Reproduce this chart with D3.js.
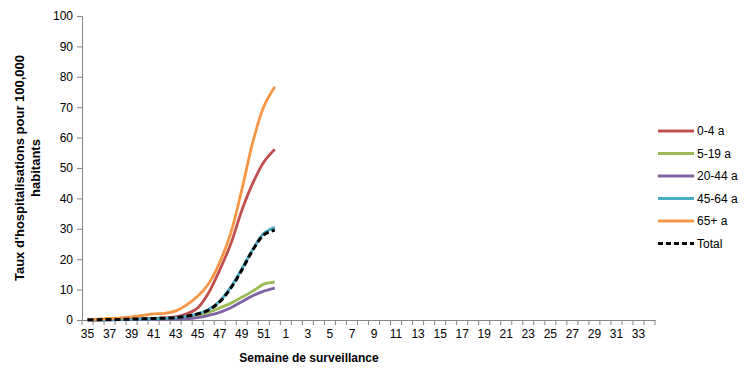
<!DOCTYPE html>
<html lang="en">
<head>
<meta charset="utf-8">
<title>Hospitalisations</title>
<script src="https://cdn.jsdelivr.net/npm/d3@7"></script>
<style>
body { margin: 0; background: #fff; }
text { font-family: "Liberation Sans", Arial, sans-serif; fill: #000; }
.title { font-weight: bold; font-size: 12px; }
</style>
</head>
<body>
<script>
var weeks = ["35","36","37","38","39","40","41","42","43","44","45","46","47","48","49","50","51","52",
  "1","2","3","4","5","6","7","8","9","10","11","12","13","14","15","16","17","18","19","20",
  "21","22","23","24","25","26","27","28","29","30","31","32","33","34"];

// values for weeks 35..52
var age0_4   = [0.1,0.1,0.2,0.2,0.3,0.4,0.5,0.7,1.0,2.0,4.0,9.0,16.5,25,36,45,52,56.2];
var age5_19  = [0.0,0.0,0.1,0.1,0.1,0.1,0.2,0.3,0.4,0.8,1.5,2.5,4.0,5.5,7.5,9.5,11.8,12.5];
var age20_44 = [0.0,0.0,0.0,0.1,0.1,0.1,0.1,0.2,0.2,0.4,0.8,1.5,2.5,4.0,6.0,8.0,9.5,10.5];
var age45_64 = [0.1,0.1,0.2,0.2,0.3,0.3,0.4,0.5,0.7,1.2,2.0,3.5,6.2,10.8,16.8,23.2,28.5,30.5];
var age65    = [0.2,0.3,0.5,0.7,1.0,1.5,2.0,2.2,3.0,5.0,7.8,12.0,19.0,28.6,42.8,58.5,70.2,76.7];
var total    = [0.1,0.1,0.2,0.2,0.3,0.4,0.5,0.6,0.8,1.2,2.0,3.3,6.0,10.5,16.4,23.0,28.0,29.6];

var series = [
  {name: "0-4 a", values: age0_4, color: "#C0504D"},
  {name: "5-19 a", values: age5_19, color: "#9BBB59"},
  {name: "20-44 a", values: age20_44, color: "#8064A2"},
  {name: "45-64 a", values: age45_64, color: "#4BACC6"},
  {name: "65+ a", values: age65, color: "#F79646"},
  {name: "Total", values: total, color: "#000000", dash: "6,3"}
];
var yTicks = [0,10,20,30,40,50,60,70,80,90,100];

var W = 756, H = 378;
var m = {left: 82, top: 16, right: 101, bottom: 58};

var svg = d3.select("body").append("svg")
  .attr("width", W)
  .attr("height", H)

var x = d3.scaleBand().domain(weeks).range([m.left, W - m.right]);
var y = d3.scaleLinear().domain([0, 100]).range([H - m.bottom, m.top]);

/* y axis */
var yAxis = svg.append("g")
  .attr("transform", "translate(" + m.left + ",0)")
  .call(d3.axisLeft(y).tickValues(yTicks).tickSize(5).tickPadding(4));
yAxis.select(".domain").attr("stroke", "#868686");
yAxis.selectAll(".tick line").attr("stroke", "#868686");
yAxis.selectAll("text").attr("font-size", 12).attr("font-family", "Liberation Sans, Arial, sans-serif").attr("fill", "#000");

/* x axis: labels every other week, ticks at category borders */
var xAxis = svg.append("g")
  .attr("transform", "translate(0," + (H - m.bottom) + ")")
  .call(d3.axisBottom(x).tickSize(0).tickPadding(9)
    .tickFormat(function(d, i) { return i % 2 == 0 ? d : ""; }));
xAxis.select(".domain").attr("stroke", "#868686");
xAxis.selectAll("text").attr("font-size", 12).attr("font-family", "Liberation Sans, Arial, sans-serif").attr("fill", "#000");
xAxis.selectAll(".border")
  .data(weeks.concat(["end"]))
  .enter().append("line")
  .attr("class", "border")
  .attr("x1", function(d, i) { return m.left + i * x.step(); })
  .attr("x2", function(d, i) { return m.left + i * x.step(); })
  .attr("y1", 0).attr("y2", 5)
  .attr("stroke", "#868686");

/* lines */
var line = d3.line()
  .x(function(d, i) { return x(weeks[i]) + x.bandwidth() / 2; })
  .y(function(d) { return y(d); })
  .curve(d3.curveCatmullRom.alpha(0.5));

svg.selectAll(".series")
  .data(series)
  .enter().append("path")
  .attr("class", "series")
  .attr("d", function(d) { return line(d.values); })
  .attr("fill", "none")
  .attr("stroke", function(d) { return d.color; })
  .attr("stroke-width", function(d) { return d.dash ? 3 : 2.8; })
  .attr("stroke-dasharray", function(d) { return d.dash || null; });

/* titles */
svg.append("text")
  .attr("class", "title")
  .attr("x", 309)
  .attr("y", 362)
  .attr("text-anchor", "middle")
  .text("Semaine de surveillance");

var yt = svg.append("text")
  .attr("class", "title")
  .attr("font-size", 13)
  .style("font-size", "13px")
  .attr("transform", "translate(24,168) rotate(-90)")
  .attr("text-anchor", "middle");
yt.append("tspan").attr("x", 0).attr("dy", 0).text("Taux d'hospitalisations  pour 100,000");
yt.append("tspan").attr("x", 0).attr("dy", 16).text("habitants");

/* legend */
var leg = svg.selectAll(".leg")
  .data(series)
  .enter().append("g")
  .attr("class", "leg")
  .attr("transform", function(d, i) { return "translate(658," + (131 + i * 22.5) + ")"; });
leg.append("line")
  .attr("x1", 0).attr("x2", 36)
  .attr("stroke", function(d) { return d.color; })
  .attr("stroke-width", 3)
  .attr("stroke-dasharray", function(d) { return d.dash ? "5,3" : null; });
leg.append("text")
  .attr("x", 39).attr("dy", "0.35em")
  .attr("font-size", 12)
  .text(function(d) { return d.name; });
</script>
</body>
</html>
